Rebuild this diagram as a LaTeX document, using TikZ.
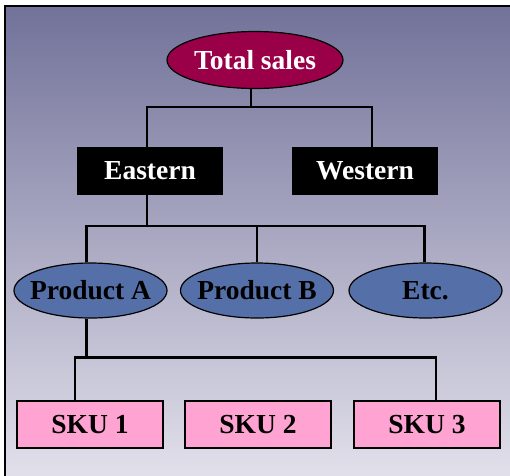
\documentclass[tikz,border=0pt]{standalone}
\usepackage{fontspec}
\setmainfont{Liberation Serif}
\usetikzlibrary{shapes.geometric}
\definecolor{salesred}{HTML}{990047}
\definecolor{prodblue}{HTML}{5570A8}
\definecolor{skupink}{HTML}{FFA3D2}
\definecolor{bgtop}{HTML}{72729A}
\definecolor{bgbottom}{HTML}{E4E2EC}
\tikzset{
  label font/.style={font=\fontsize{27.5}{27.5}\selectfont\bfseries},
  salesnode/.style={ellipse, draw=black, line width=1.2pt, fill=salesred, text=white,
    minimum width=176pt, minimum height=57pt, inner xsep=-20pt, inner ysep=0pt, label font},
  regionbox/.style={rectangle, fill=black, text=white,
    minimum width=146pt, minimum height=48pt, inner sep=0pt, label font},
  productnode/.style={ellipse, draw=black, line width=1.2pt, fill=prodblue, text=black,
    minimum width=153pt, minimum height=55pt, inner xsep=-20pt, inner ysep=0pt, label font},
  skubox/.style={rectangle, draw=black, line width=1.2pt, fill=skupink, text=black,
    minimum width=146pt, minimum height=47pt, inner sep=0pt, label font},
  link/.style={draw=black, line width=2.5pt}
}
\begin{document}
\begin{tikzpicture}[x=1pt, y=-1pt]
\useasboundingbox (0,0) rectangle (510,475);
\clip (0,0) rectangle (510,475);
\shade[top color=bgtop, bottom color=bgbottom] (5,6) rectangle (520,485);
\draw[line width=2.5pt] (5,485) -- (5,6) -- (520,6);

\node[salesnode]   (total) at (255,60)    {Total sales};
\node[regionbox]   (east)  at (150,171)   {Eastern};
\node[regionbox]   (west)  at (365,171)   {Western};
\node[productnode] (pa)    at (90.5,290.5) {Product A};
\node[productnode] (pb)    at (257,290.5) {Product B};
\node[productnode] (etc)   at (425.5,290.5) {Etc.};
\node[skubox]      (sku1)  at (90,424.5)  {SKU 1};
\node[skubox]      (sku2)  at (258,424.5) {SKU 2};
\node[skubox]      (sku3)  at (427,424.5) {SKU 3};

% total sales -> regions
\draw[link] ([xshift=-4pt]total.south) -- ++(0,18) coordinate (j1);
\draw[link] ([xshift=-3pt]east.north) |- (j1) -| ([xshift=7pt]west.north);
% eastern -> products
\draw[link] ([xshift=-3pt]east.south) -- ++(0,31) coordinate (j2);
\draw[link] ([xshift=-4pt]pa.north) |- (j2) -| ([xshift=-1pt]etc.north);
\draw[link] (pb.north) -- (pb.north |- j2);
% product A -> skus
\draw[link] ([xshift=-4pt]pa.south) -- ++(0,39) coordinate (j3);
\draw[link] ([xshift=-15pt]sku1.north) |- (j3) -| ([xshift=9pt]sku3.north);
\end{tikzpicture}
\end{document}
